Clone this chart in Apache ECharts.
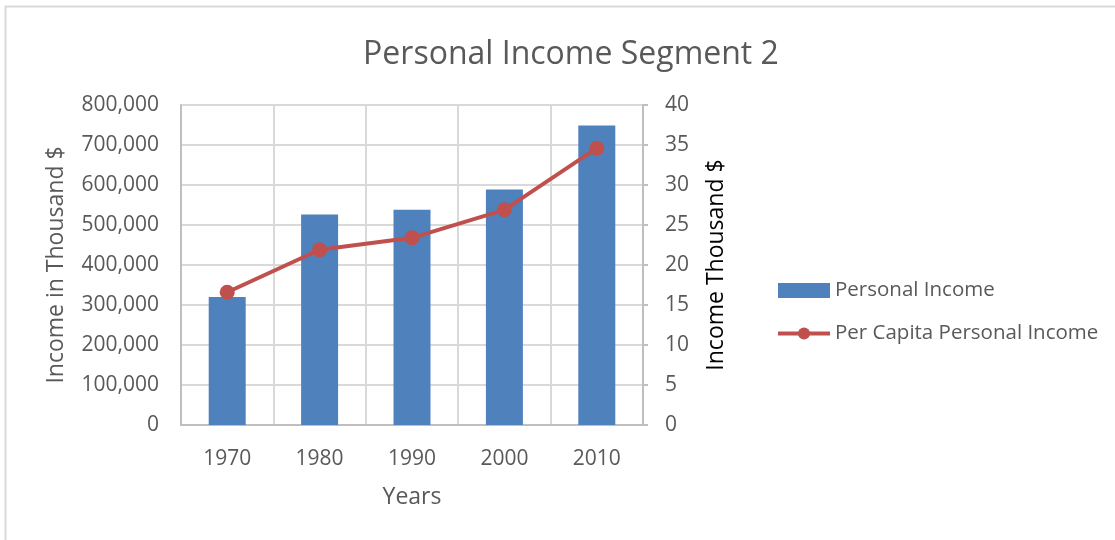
<!DOCTYPE html>
<html>
<head>
<meta charset="utf-8">
<title>Personal Income Segment 2</title>
<script src="https://cdn.jsdelivr.net/npm/echarts@6/dist/echarts.min.js"></script>
<style>
  html, body { margin: 0; padding: 0; background: #fff; }
  #chart { width: 1115px; height: 540px; }
</style>
</head>
<body>
<div id="chart"></div>
<script>
// data
var years = ['1970', '1980', '1990', '2000', '2010'];
var personalIncome = [320000, 526000, 538000, 589000, 749000];
var perCapitaIncome = [16.6, 21.9, 23.4, 26.9, 34.6];

var fontName = '"Open Sans", sans-serif';
var grey = '#595959';
var axisGrey = '#bfbfbf';
var gridGrey = '#d9d9d9';

var chart = echarts.init(document.getElementById('chart'));
var option = {
  textStyle: { fontFamily: fontName },
  color: ['#4f81bd', '#c0504d'],
  graphic: [
    {
      // chart area border
      type: 'rect',
      shape: { x: 5.5, y: 6.5, width: 1120, height: 540 },
      style: { fill: 'none', stroke: gridGrey, lineWidth: 2 },
      silent: true
    }
  ],
  title: {
    text: 'Personal Income Segment 2',
    left: 566,
    textAlign: 'center',
    top: 34,
    textStyle: { color: grey, fontSize: 32, fontWeight: 'normal', fontFamily: fontName }
  },
  legend: {
    orient: 'vertical',
    left: 771,
    top: 275,
    itemWidth: 52,
    itemHeight: 15,
    itemGap: 22,
    textStyle: { color: grey, fontSize: 20.5, fontFamily: fontName },
    data: [
      { name: 'Personal Income', icon: 'rect' },
      { name: 'Per Capita Personal Income', lineStyle: { width: 4 } }
    ]
  },
  grid: {
    left: 181,
    right: 472,
    top: 105,
    bottom: 115
  },
  xAxis: {
    type: 'category',
    data: years,
    name: 'Years',
    nameLocation: 'middle',
    nameGap: 61,
    nameTextStyle: { color: grey, fontSize: 23 },
    axisLine: { lineStyle: { color: axisGrey, width: 2 } },
    axisTick: { show: false },
    axisLabel: { color: grey, fontSize: 21, margin: 24 },
    splitLine: { show: true, lineStyle: { color: gridGrey, width: 2 } }
  },
  yAxis: [
    {
      type: 'value',
      min: 0,
      max: 800000,
      interval: 100000,
      name: 'Income in Thousand $',
      nameLocation: 'middle',
      nameGap: 113,
      nameTextStyle: { color: grey, fontSize: 23 },
      axisLine: { show: true, lineStyle: { color: axisGrey, width: 2 } },
      axisTick: { show: false },
      axisLabel: {
        color: grey,
        fontSize: 21,
        margin: 22,
        formatter: function (v) { return v.toLocaleString('en-US'); }
      },
      splitLine: { lineStyle: { color: gridGrey, width: 2 } }
    },
    {
      type: 'value',
      min: 0,
      max: 40,
      interval: 5,
      name: 'Income Thousand $',
      nameLocation: 'middle',
      nameGap: 62,
      nameTextStyle: { color: '#000', fontSize: 23 },
      axisLine: { show: true, lineStyle: { color: axisGrey, width: 2 } },
      axisTick: { show: true, inside: false, length: 5, lineStyle: { color: axisGrey, width: 2 } },
      axisLabel: { color: grey, fontSize: 21, margin: 22 },
      splitLine: { show: false }
    }
  ],
  series: [
    {
      name: 'Personal Income',
      type: 'bar',
      data: personalIncome,
      barWidth: 37,
      yAxisIndex: 0
    },
    {
      name: 'Per Capita Personal Income',
      type: 'line',
      data: perCapitaIncome,
      yAxisIndex: 1,
      symbol: 'circle',
      symbolSize: 15,
      lineStyle: { width: 4 }
    }
  ],
  animation: false
};
chart.setOption(option);
</script>
</body>
</html>
